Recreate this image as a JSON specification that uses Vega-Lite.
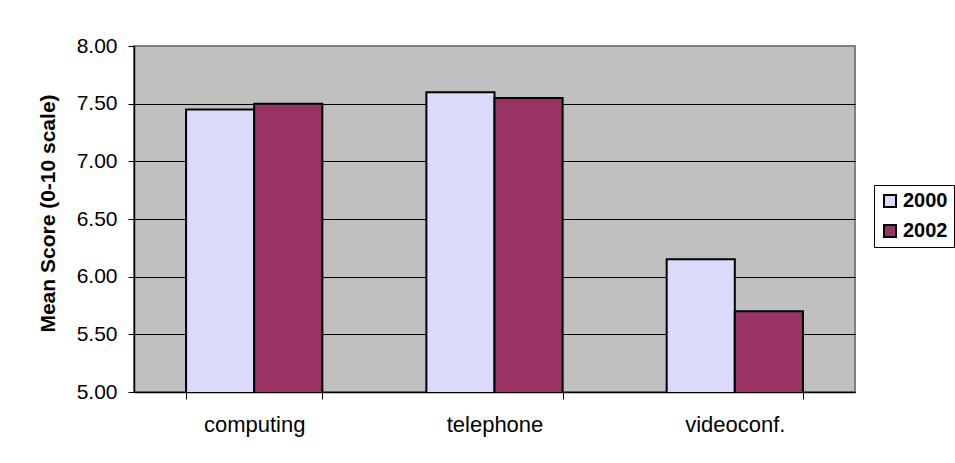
{
  "$schema": "https://vega.github.io/schema/vega-lite/v6.json",
  "autosize": {"type": "none"},
  "width": 721,
  "height": 346,
  "padding": {"left": 134, "top": 46, "right": 100, "bottom": 71},
  "background": "white",
  "data": {
    "values": [
      {"medium": "computing", "year": "2000", "score": 7.45},
      {"medium": "computing", "year": "2002", "score": 7.50},
      {"medium": "telephone", "year": "2000", "score": 7.60},
      {"medium": "telephone", "year": "2002", "score": 7.55},
      {"medium": "videoconf.", "year": "2000", "score": 6.15},
      {"medium": "videoconf.", "year": "2002", "score": 5.70}
    ]
  },
  "mark": {"type": "bar", "stroke": "black", "strokeWidth": 2, "clip": true},
  "encoding": {
    "x": {
      "field": "medium",
      "type": "nominal",
      "sort": null,
      "scale": {"paddingInner": 0.433, "paddingOuter": 0.2167},
      "axis": {
        "title": null,
        "labelAngle": 0,
        "labelFontSize": 22,
        "labelColor": "black",
        "labelPadding": 15,
        "tickBand": "extent",
        "tickSize": 7,
        "tickColor": "black",
        "domainColor": "black",
        "domainWidth": 1.5
      }
    },
    "xOffset": {
      "field": "year",
      "type": "nominal",
      "scale": {"paddingInner": 0, "paddingOuter": 0}
    },
    "y": {
      "field": "score",
      "type": "quantitative",
      "scale": {"domain": [5, 8], "zero": false, "nice": false},
      "axis": {
        "title": "Mean Score (0-10 scale)",
        "titleFontSize": 21,
        "titleFontWeight": "bold",
        "titleColor": "black",
        "titlePadding": 18,
        "titleY": 167,
        "values": [5, 5.5, 6, 6.5, 7, 7.5, 8],
        "format": ".2f",
        "labelFontSize": 21,
        "labelColor": "black",
        "labelPadding": 11,
        "tickSize": 6,
        "tickColor": "black",
        "domainColor": "black",
        "domainWidth": 1.5,
        "grid": true,
        "gridColor": {"condition": {"test": "datum.value == 8", "value": "#808080"}, "value": "black"},
        "gridOpacity": 1,
        "gridWidth": 1
      }
    },
    "color": {
      "field": "year",
      "type": "nominal",
      "scale": {"domain": ["2000", "2002"], "range": ["#DADAFA", "#993366"]},
      "legend": {
        "title": null,
        "orient": "none",
        "legendX": 740,
        "legendY": 139,
        "fillColor": "white",
        "strokeColor": "black",
        "padding": 6,
        "rowPadding": 10,
        "symbolType": "square",
        "symbolSize": 144,
        "symbolStrokeColor": "black",
        "symbolStrokeWidth": 2,
        "symbolOpacity": 1,
        "labelFontSize": 20,
        "labelFontWeight": "bold",
        "labelColor": "black",
        "labelOffset": 3
      }
    }
  },
  "config": {
    "font": "Liberation Sans",
    "view": {"fill": "#C0C0C0", "stroke": "#808080", "strokeWidth": 2}
  }
}
